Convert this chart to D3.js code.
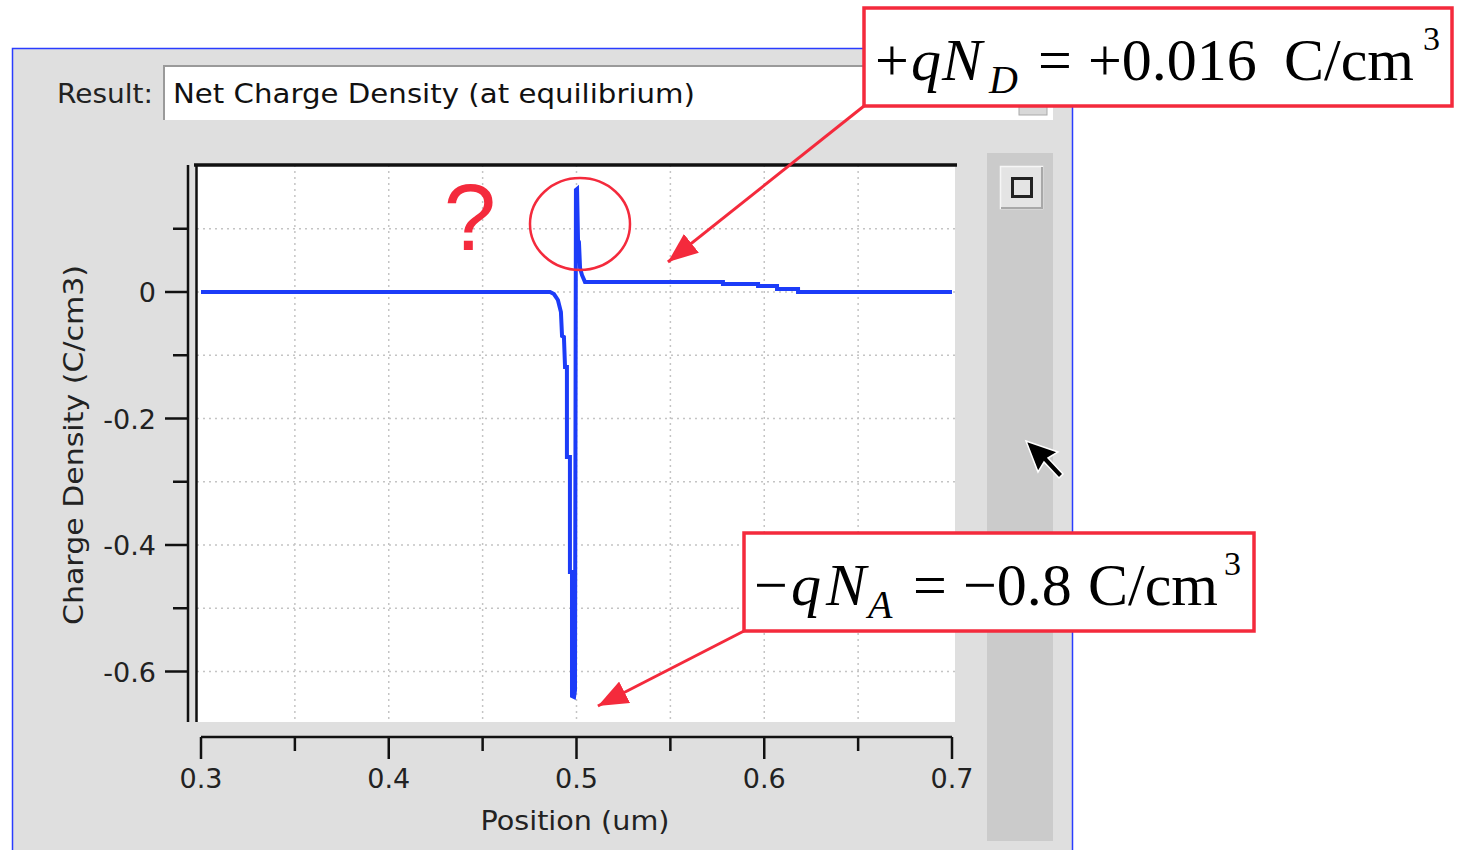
<!DOCTYPE html>
<html>
<head>
<meta charset="utf-8">
<script src="https://cdn.jsdelivr.net/npm/d3@7"></script>
<style>
  body { margin: 0; background: #fff; }
  text { font-family: "DejaVu Sans", sans-serif; }
</style>
</head>
<body>
<div id="chart"></div>
<script>
// net charge density vs position
var positions = [0.300, 0.4859, 0.4880, 0.4901, 0.4917, 0.4923, 0.4933, 0.4939, 0.4949, 0.4949, 0.4965, 0.4965, 0.4976,
                 0.4976, 0.4987, 0.4992, 0.4997, 0.5003, 0.5008, 0.5013, 0.5019, 0.5029, 0.5045,
                 0.578, 0.578, 0.5967, 0.5967, 0.6068, 0.6068, 0.618, 0.618, 0.700];
var charge =    [0, 0, -0.0032, -0.0126, -0.0316, -0.0696, -0.0711, -0.1186, -0.1186, -0.2609, -0.2609, -0.4427, -0.4427,
                 -0.6387, -0.6403, -0.6293, 0.1613, 0.1628, 0.0822, 0.079, 0.038, 0.027, 0.016,
                 0.016, 0.0126, 0.0126, 0.0095, 0.0095, 0.0047, 0.0047, 0, 0];
var xMajorTicks = [0.3, 0.4, 0.5, 0.6, 0.7];
var xMinorTicks = [0.35, 0.45, 0.55, 0.65];
var yMajorTicks = [0, -0.2, -0.4, -0.6];
var yMinorTicks = [0.1, -0.1, -0.3, -0.5];
var xGrid = [0.35, 0.4, 0.45, 0.5, 0.55, 0.6, 0.65];
var yGrid = [0.1, 0, -0.1, -0.2, -0.3, -0.4, -0.5, -0.6];

var W = 1459, H = 850;
var svg = d3.select("#chart").append("svg")
    .attr("width", W).attr("height", H);

svg.append("rect").attr("width", W).attr("height", H).attr("fill", "#fff");

// window panel
svg.append("rect")
    .attr("x", 12.5).attr("y", 48.5).attr("width", 1060).attr("height", 820)
    .attr("fill", "#dfdfdf").attr("stroke", "#2a3cff").attr("stroke-width", 1.5);

// Result: combo box
svg.append("text").attr("x", 57).attr("y", 103)
    .style("font-size", "27px").attr("fill", "#222")
    .attr("textLength", 96).attr("lengthAdjust", "spacingAndGlyphs").text("Result:");
svg.append("rect").attr("x", 163).attr("y", 65).attr("width", 890).attr("height", 55).attr("fill", "#fff");
svg.append("path").attr("d", "M164,120 V66 H1053").attr("fill", "none").attr("stroke", "#9a9a9a").attr("stroke-width", 2);
svg.append("rect").attr("x", 1019).attr("y", 100).attr("width", 28).attr("height", 15)
    .attr("fill", "#d8d8d8").attr("stroke", "#aaa");
svg.append("text").attr("x", 173).attr("y", 103)
    .style("font-size", "27px").attr("fill", "#111")
    .attr("textLength", 522).attr("lengthAdjust", "spacingAndGlyphs")
    .text("Net Charge Density (at equilibrium)");

// side strip with button
svg.append("rect").attr("x", 987).attr("y", 153).attr("width", 66).attr("height", 688).attr("fill", "#cbcbcb");
svg.append("rect").attr("x", 1000.5).attr("y", 166.5).attr("width", 42).attr("height", 42)
    .attr("fill", "#e4e4e4").attr("stroke", "#f6f6f6").attr("stroke-width", 1.5);
svg.append("path").attr("d", "M1001,208 H1042 V167").attr("fill", "none").attr("stroke", "#a8a8a8").attr("stroke-width", 2);
svg.append("rect").attr("x", 1012.5).attr("y", 178.5).attr("width", 19).attr("height", 18)
    .attr("fill", "none").attr("stroke", "#222").attr("stroke-width", 3);

// scales
var x = d3.scaleLinear().domain([0.3, 0.7]).range([201, 952]);
var y = d3.scaleLinear().domain([0, -0.2]).range([292, 418.5]);

var plotTop = 165, plotBottom = 722, plotLeft = 197, plotRight = 955;

svg.append("rect").attr("x", plotLeft).attr("y", plotTop)
    .attr("width", plotRight - plotLeft).attr("height", plotBottom - plotTop).attr("fill", "#fff");

// dotted grid
svg.selectAll(".gx").data(xGrid).enter().append("line")
    .attr("x1", d => x(d)).attr("x2", d => x(d))
    .attr("y1", plotTop).attr("y2", plotBottom)
    .attr("stroke", "#c4c4c4").attr("stroke-width", 1.5).attr("stroke-dasharray", "2,4");
svg.selectAll(".gy").data(yGrid).enter().append("line")
    .attr("x1", plotLeft).attr("x2", plotRight)
    .attr("y1", d => y(d)).attr("y2", d => y(d))
    .attr("stroke", "#c4c4c4").attr("stroke-width", 1.5).attr("stroke-dasharray", "2,4");

// plot frame: thick top, double left
svg.append("line").attr("x1", 194).attr("x2", 957).attr("y1", plotTop).attr("y2", plotTop)
    .attr("stroke", "#111").attr("stroke-width", 3.5);
svg.append("line").attr("x1", 196.5).attr("x2", 196.5).attr("y1", plotTop).attr("y2", plotBottom)
    .attr("stroke", "#111").attr("stroke-width", 2.5);

// y axis (separate, left)
var yAxis = svg.append("g");
yAxis.append("line").attr("x1", 188).attr("x2", 188).attr("y1", plotTop).attr("y2", plotBottom)
    .attr("stroke", "#111").attr("stroke-width", 2.5);
yAxis.selectAll(".ymaj").data(yMajorTicks).enter().append("line")
    .attr("x1", 165).attr("x2", 188).attr("y1", d => y(d)).attr("y2", d => y(d))
    .attr("stroke", "#111").attr("stroke-width", 2.5);
yAxis.selectAll(".ymin").data(yMinorTicks).enter().append("line")
    .attr("x1", 173).attr("x2", 188).attr("y1", d => y(d)).attr("y2", d => y(d))
    .attr("stroke", "#111").attr("stroke-width", 2.5);
yAxis.selectAll(".ylab").data(yMajorTicks).enter().append("text")
    .attr("x", 156).attr("y", d => y(d) + 10)
    .attr("text-anchor", "end").style("font-size", "27px").attr("fill", "#222")
    .text(d => d === 0 ? "0" : d.toFixed(1));
svg.append("text")
    .attr("transform", "translate(83,445) rotate(-90)")
    .attr("text-anchor", "middle").style("font-size", "27px").attr("fill", "#222")
    .attr("textLength", 360).attr("lengthAdjust", "spacingAndGlyphs")
    .text("Charge Density (C/cm3)");

// x axis (separate, below)
var xAxis = svg.append("g");
xAxis.append("line").attr("x1", x(0.3)).attr("x2", x(0.7)).attr("y1", 737).attr("y2", 737)
    .attr("stroke", "#111").attr("stroke-width", 2.5);
xAxis.selectAll(".xmaj").data(xMajorTicks).enter().append("line")
    .attr("x1", d => x(d)).attr("x2", d => x(d)).attr("y1", 737).attr("y2", 759)
    .attr("stroke", "#111").attr("stroke-width", 2.5);
xAxis.selectAll(".xmin").data(xMinorTicks).enter().append("line")
    .attr("x1", d => x(d)).attr("x2", d => x(d)).attr("y1", 737).attr("y2", 751)
    .attr("stroke", "#111").attr("stroke-width", 2.5);
xAxis.selectAll(".xlab").data(xMajorTicks).enter().append("text")
    .attr("x", d => x(d)).attr("y", 788)
    .attr("text-anchor", "middle").style("font-size", "27px").attr("fill", "#222")
    .text(d => d.toFixed(1));
svg.append("text").attr("x", 575).attr("y", 830)
    .attr("text-anchor", "middle").style("font-size", "27px").attr("fill", "#222")
    .attr("textLength", 189).attr("lengthAdjust", "spacingAndGlyphs")
    .text("Position (um)");

// data line
var data = positions.map((p, i) => ({pos: p, val: charge[i]}));
var line = d3.line().x(d => x(d.pos)).y(d => y(d.val));
svg.append("path").datum(data)
    .attr("d", line)
    .attr("fill", "none").attr("stroke", "#1c3cf8").attr("stroke-width", 4)
    .attr("stroke-linejoin", "miter");

// annotations
var red = "#f42a3c";
svg.append("defs").append("marker")
    .attr("id", "head").attr("markerUnits", "userSpaceOnUse")
    .attr("viewBox", "0 0 30 24").attr("refX", 30).attr("refY", 12)
    .attr("markerWidth", 30).attr("markerHeight", 24).attr("orient", "auto")
    .append("path").attr("d", "M0,0 L30,12 L0,24 Z").attr("fill", red);

svg.append("ellipse").attr("cx", 580).attr("cy", 224).attr("rx", 50).attr("ry", 46)
    .attr("fill", "none").attr("stroke", red).attr("stroke-width", 2.5);
svg.append("text").attr("x", 470).attr("y", 250).attr("text-anchor", "middle")
    .style("font-family", "Liberation Sans, Arial, sans-serif").style("font-size", "94px")
    .attr("fill", red).text("?");

svg.append("line").attr("x1", 864).attr("y1", 106).attr("x2", x(0.5487)).attr("y2", y(0.0474))
    .attr("stroke", red).attr("stroke-width", 3).attr("marker-end", "url(#head)");
svg.append("line").attr("x1", 744).attr("y1", 631).attr("x2", x(0.5114)).attr("y2", y(-0.6545))
    .attr("stroke", red).attr("stroke-width", 3).attr("marker-end", "url(#head)");

function eqBox(bx, by, bw, bh, baseY, parts) {
    svg.append("rect").attr("x", bx).attr("y", by).attr("width", bw).attr("height", bh)
        .attr("fill", "#fff").attr("stroke", red).attr("stroke-width", 3.5);
    parts.forEach(function(p) {
        svg.append("text").attr("x", p.x).attr("y", baseY + (p.dy || 0))
            .style("font-family", "Liberation Serif, Times New Roman, serif")
            .style("font-size", p.size + "px").style("font-style", p.it ? "italic" : "normal")
            .attr("fill", "#000").text(p.t);
    });
}

eqBox(864, 8, 588, 98, 80, [
    {t: "+", x: 875, size: 60},
    {t: "q", x: 911, size: 60, it: true},
    {t: "N", x: 942, size: 60, it: true},
    {t: "D", x: 989, size: 40, it: true, dy: 13},
    {t: "=", x: 1038, size: 60},
    {t: "+0.016", x: 1088, size: 60},
    {t: "C/cm", x: 1284, size: 60},
    {t: "3", x: 1423, size: 34, dy: -30}
]);

eqBox(744, 533, 510, 98, 605, [
    {t: "\u2212", x: 754, size: 60},
    {t: "q", x: 791, size: 60, it: true},
    {t: "N", x: 826, size: 60, it: true},
    {t: "A", x: 868, size: 40, it: true, dy: 13},
    {t: "=", x: 913, size: 60},
    {t: "\u22120.8", x: 963, size: 60},
    {t: "C/cm", x: 1088, size: 60},
    {t: "3", x: 1224, size: 34, dy: -30}
]);

// mouse cursor
svg.append("path")
    .attr("d", "M1026,441 L1058,452 L1048,458 L1063,474 L1059,478 L1044,462 L1038,472 Z")
    .attr("fill", "#000").attr("stroke", "#fff").attr("stroke-width", 1.5);
</script>
</body>
</html>
